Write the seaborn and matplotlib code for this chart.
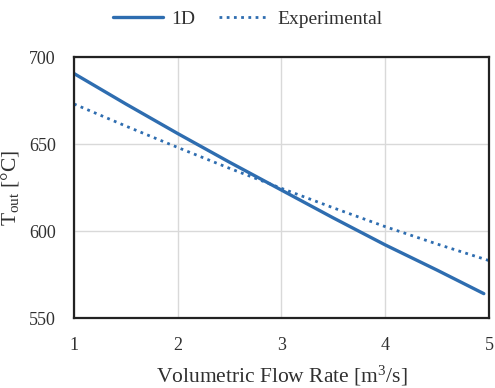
import matplotlib
matplotlib.use("Agg")
import matplotlib.pyplot as plt
import seaborn as sns
import pandas as pd

# Data
x_1d = [1.0, 1.5, 2.0, 2.5, 3.0, 3.5, 4.0, 4.5, 4.95]
t_1d = [690.5, 673, 656, 639.5, 623.5, 607.5, 592, 577.5, 564]
x_exp = [1.0, 1.5, 2.0, 2.5, 3.0, 3.5, 4.0, 4.5, 5.0]
t_exp = [673, 660.3, 648, 636, 624.5, 613.3, 602.5, 592.5, 583]
x_ticks = [1, 2, 3, 4, 5]
y_ticks = [550, 600, 650, 700]

sns.set_theme(style="white")
plt.rcParams['font.family'] = ['Liberation Serif', 'DejaVu Serif']
plt.rcParams['mathtext.fontset'] = 'custom'
plt.rcParams['mathtext.rm'] = 'Liberation Serif'
plt.rcParams['mathtext.it'] = 'Liberation Serif:italic'

color = '#2E6DB0'
fig = plt.figure(figsize=(4.95, 3.88), dpi=100)
ax = fig.add_axes([74/495, 1-318/388, (489-74)/495, (318-57)/388])

df1 = pd.DataFrame({'x': x_1d, 'y': t_1d})
df2 = pd.DataFrame({'x': x_exp, 'y': t_exp})
sns.lineplot(data=df1, x='x', y='y', ax=ax, color=color, linewidth=2.4, label='1D')
sns.lineplot(data=df2, x='x', y='y', ax=ax, color=color, linewidth=2.0,
             linestyle=(0, (1, 1.6)), label='Experimental')

ax.set_xlim(1, 5)
ax.set_ylim(550, 700)
ax.set_xticks(x_ticks)
ax.set_yticks(y_ticks)
ax.grid(True, color='#d9d9d9', linewidth=1.0)
ax.set_axisbelow(True)
for s in ax.spines.values():
    s.set_color('#222222')
    s.set_linewidth(1.6)
ax.tick_params(axis='both', length=0, labelsize=13, colors='#303030')
ax.tick_params(axis='x', pad=14)
ax.tick_params(axis='y', pad=13)
ax.set_xlabel('Volumetric Flow Rate [m$^3$/s]', fontsize=15.5, color='#303030', labelpad=7)
ax.set_ylabel(r'T$_{\mathrm{out}}$ [°C]', fontsize=15.5, color='#303030', labelpad=6)

ax.legend(loc='upper center', bbox_to_anchor=(0.418, 1.245), ncol=2, frameon=False,
          fontsize=14, handlelength=2.6, columnspacing=1.2, handletextpad=0.4)
for t in ax.get_legend().get_texts():
    t.set_color('#303030')

fig.savefig('out.png', dpi=100)
